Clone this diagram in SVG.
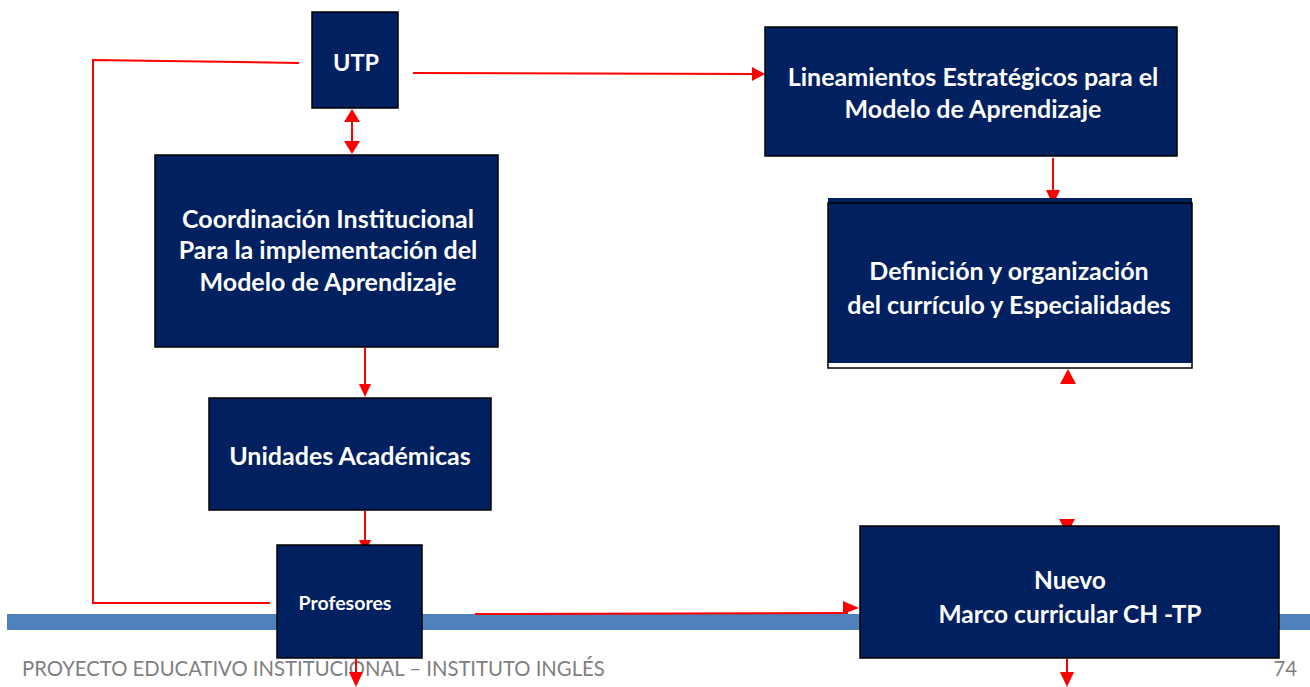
<svg xmlns="http://www.w3.org/2000/svg" width="1310" height="687" viewBox="0 0 1310 687">
<style>
.box{fill:#002060;stroke:#000;stroke-width:1.5}
.t{fill:#fff;font-family:Lato,"Liberation Sans",sans-serif;font-weight:bold;text-anchor:middle}
.ln{stroke:#ff0000;stroke-width:2;fill:none}
.ah{fill:#ff0000}
.foot{fill:#808080;font-family:Lato,"Liberation Sans",sans-serif;font-size:20.3px}
</style>
<rect x="7" y="614" width="1303" height="16" fill="#4F81BD"/>
<text class="foot" x="22" y="676">PROYECTO EDUCATIVO INSTITUCIONAL – INSTITUTO INGLÉS</text>
<text class="foot" x="1297" y="676" text-anchor="end">74</text>
<g id="connectors">
<polyline class="ln" points="299,63 93,60 93,603 270,603"/>
<line class="ln" x1="352" y1="120" x2="352" y2="143" stroke-width="3"/>
<path class="ah" d="M344,122 L352,109 L360,122 Z"/>
<path class="ah" d="M344,141 L352,154 L360,141 Z"/>
<line class="ln" x1="413" y1="73" x2="755" y2="74" stroke-width="3"/>
<path class="ah" d="M752,67 L765,74 L752,81 Z"/>
<line class="ln" x1="365" y1="348" x2="365" y2="386"/>
<path class="ah" d="M359,384 L365,397 L371,384 Z"/>
<line class="ln" x1="365" y1="511" x2="365" y2="542"/>
<path class="ah" d="M359,540 L365,553 L371,540 Z"/>
<line class="ln" x1="1053" y1="158" x2="1053" y2="192"/>
<path class="ah" d="M1046,190 L1053,205 L1060,190 Z"/>
<path class="ah" d="M1060,384 L1068,369 L1076,384 Z"/>
<line class="ln" x1="475" y1="614" x2="848" y2="613"/>
<path class="ah" d="M843,601 L859,608 L843,614 Z"/>
<path class="ah" d="M1059,519 L1067,534 L1075,519 Z"/>
<line class="ln" x1="1067" y1="659" x2="1067" y2="674"/>
<path class="ah" d="M1060,672 L1067,687 L1074,672 Z"/>
<line class="ln" x1="356" y1="659" x2="356" y2="674"/>
<path class="ah" d="M349,672 L356,687 L363,672 Z"/>
</g>
<g id="utp">
<rect class="box" x="312" y="12" width="86" height="96"/>
<text class="t" x="356" y="71" font-size="23.5">UTP</text>
</g>
<g id="coordinacion">
<rect class="box" x="155" y="155" width="343" height="192"/>
<text class="t" x="328" y="228" font-size="25">Coordinación Institucional</text>
<text class="t" x="328" y="259" font-size="25">Para la implementación del</text>
<text class="t" x="328" y="291" font-size="25">Modelo de Aprendizaje</text>
</g>
<g id="unidades">
<rect class="box" x="209" y="398" width="282" height="112"/>
<text class="t" x="350" y="465" font-size="25">Unidades Académicas</text>
</g>
<g id="profesores">
<rect class="box" x="277" y="545" width="145" height="113"/>
<text class="t" x="345" y="610" font-size="19.5">Profesores</text>
</g>
<g id="lineamientos">
<rect class="box" x="765" y="27" width="412" height="129"/>
<text class="t" x="973" y="86" font-size="25">Lineamientos Estratégicos para el</text>
<text class="t" x="973" y="118" font-size="25">Modelo de Aprendizaje</text>
</g>
<g id="definicion">
<rect x="828" y="198" width="364" height="165" fill="#002060"/>
<rect x="828" y="203" width="364" height="165" fill="none" stroke="#000" stroke-width="1.5"/>
<text class="t" x="1009" y="280" font-size="25">Definición y organización</text>
<text class="t" x="1009" y="314" font-size="25">del currículo y Especialidades</text>
</g>
<g id="nuevo">
<rect class="box" x="860" y="526" width="419" height="132"/>
<text class="t" x="1070" y="589" font-size="24.5">Nuevo</text>
<text class="t" x="1070" y="623" font-size="24.5">Marco curricular CH -TP</text>
</g>
</svg>
